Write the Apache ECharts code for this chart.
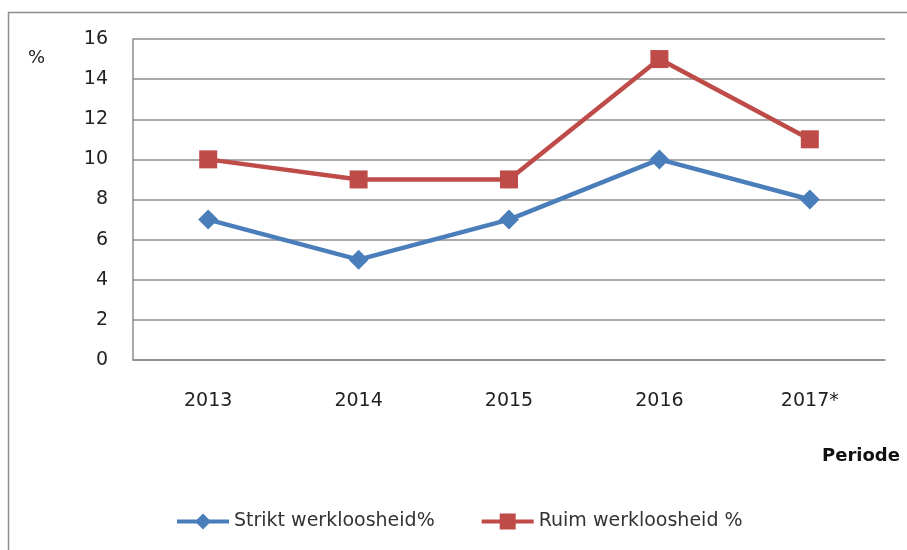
<!DOCTYPE html>
<html>
<head>
	<meta charset="utf-8" />
	<title>Werkloosheid</title>
	<script src="https://cdn.jsdelivr.net/npm/echarts@6/dist/echarts.min.js"></script>
	<style>
		* { margin: 0; padding: 0; }
		html, body { width: 100%; height: 100%; background: #fff; }
		#main { width: 907px; height: 550px; }
	</style>
</head>
<body>
	<div id="main"></div>
	<script>
		// data
		var periodes = ['2013', '2014', '2015', '2016', '2017*'];
		var strikt = [7, 5, 7, 10, 8];
		var ruim = [10, 9, 9, 15, 11];
		var yTicks = [0, 2, 4, 6, 8, 10, 12, 14, 16];

		var font = 'DejaVu Sans';
		var blue = '#4a7ebb', red = '#be4b48', grey = '#8c8c8c';
		var chart = echarts.init(document.getElementById('main'));
		var option = {
			animation: false,
			backgroundColor: '#fff',
			textStyle: { fontFamily: font },
			grid: { left: 133, top: 39, right: 22, bottom: 190 },
			graphic: [
				{
					type: 'rect',
					shape: { x: 8.5, y: 12.5, width: 920, height: 560 },
					style: { fill: 'none', stroke: grey, lineWidth: 1.5 }
				},
				{
					type: 'text', left: 28, top: 49,
					style: { text: '%', font: '18px "DejaVu Sans"', fill: '#222' }
				},
				{
					type: 'text', left: 822, top: 447,
					style: { text: 'Periode', font: 'bold 18px "DejaVu Sans"', fill: '#111' }
				}
			],
			legend: {
				top: 507,
				left: 170,
				itemGap: 45,
				itemWidth: 52,
				itemHeight: 20,
				textStyle: { fontSize: 19, color: '#333', fontFamily: font },
				data: [
					{ name: 'Strikt werkloosheid%', lineStyle: { width: 4 } },
					{ name: 'Ruim werkloosheid %', lineStyle: { width: 4 } }
				]
			},
			xAxis: {
				type: 'category',
				data: periodes,
				boundaryGap: true,
				axisLine: { lineStyle: { color: grey, width: 1.5 } },
				axisTick: { show: false },
				axisLabel: { margin: 32, fontSize: 19, color: '#222' }
			},
			yAxis: {
				type: 'value',
				min: yTicks[0],
				max: yTicks[yTicks.length - 1],
				interval: 2,
				axisLine: { show: true, lineStyle: { color: grey, width: 1.5 } },
				axisTick: { show: false },
				axisLabel: { margin: 25, fontSize: 19, color: '#222' },
				splitLine: { lineStyle: { color: grey, width: 1.5 } }
			},
			series: [
				{
					name: 'Strikt werkloosheid%',
					type: 'line',
					data: strikt,
					symbol: 'diamond',
					symbolSize: 20,
					color: blue,
					lineStyle: { width: 4.5, color: blue },
					itemStyle: { color: blue }
				},
				{
					name: 'Ruim werkloosheid %',
					type: 'line',
					data: ruim,
					symbol: 'rect',
					symbolSize: 18,
					color: red,
					lineStyle: { width: 4.5, color: red },
					itemStyle: { color: red }
				}
			]
		};
		chart.setOption(option);
	</script>
</body>
</html>
